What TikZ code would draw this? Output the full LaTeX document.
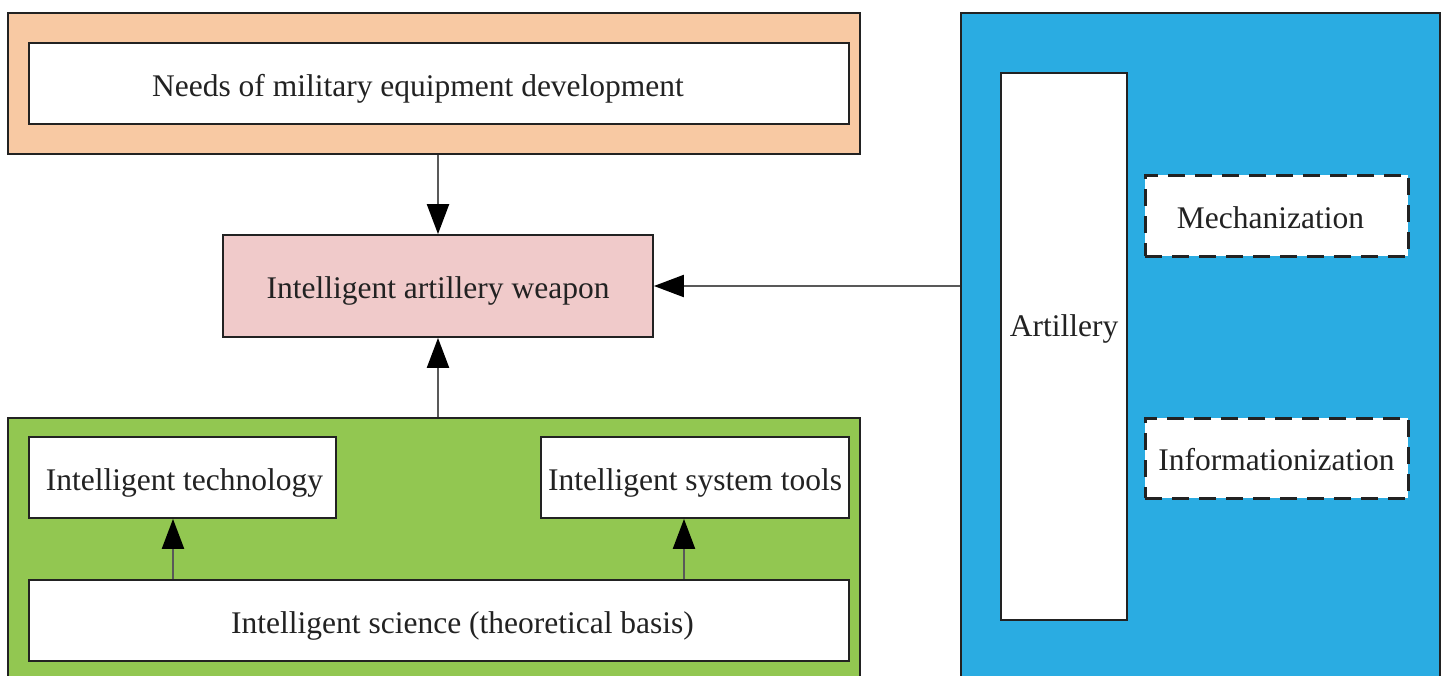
\documentclass[tikz,border=0pt]{standalone}
\usepackage{fontspec}
\setmainfont{Liberation Serif}
\usetikzlibrary{arrows.meta}
\definecolor{peach}{HTML}{F8C9A3}
\definecolor{rosy}{HTML}{F0CACA}
\definecolor{leaf}{HTML}{92C751}
\definecolor{sky}{HTML}{2AACE2}
\definecolor{ink}{HTML}{222222}
\begin{document}
\begin{tikzpicture}[x=1pt,y=-1pt,
  box/.style={draw=ink,line width=1.8pt,rectangle,inner sep=0pt,text=ink,
    font=\fontsize{31.5}{36}\selectfont,text height=30pt,text depth=5pt},
  whitebox/.style={box,fill=white},
  dashbox/.style={box,fill=white,line width=3pt,dash pattern=on 17pt off 10pt},
  frame/.style={draw=ink,line width=1.8pt,rectangle,inner sep=0pt},
  conn/.style={draw=black!65,line width=2.2pt,-{Triangle[length=30pt,width=22pt,color=black,fill=black]}}
]
\useasboundingbox (0,0) rectangle (1451,675);
\node[frame,fill=peach,minimum width=852pt,minimum height=141pt] (needsOuter) at (434,83.5) {};
\node[whitebox,minimum width=820pt,minimum height=81pt] (needs) at (439,83.5) {\hspace*{-42pt}Needs of military equipment development};
\node[box,fill=rosy,minimum width=430pt,minimum height=102pt] (weapon) at (438,286) {Intelligent artillery weapon};
\node[frame,fill=leaf,minimum width=852pt,minimum height=272pt] (greenOuter) at (434,554) {};
\node[whitebox,minimum width=307pt,minimum height=81pt] (tech) at (182.5,477.5) {\hspace*{4pt}Intelligent technology};
\node[whitebox,minimum width=308pt,minimum height=81pt] (tools) at (695,477.5) {Intelligent system tools};
\node[whitebox,minimum width=820pt,minimum height=81pt] (science) at (439,620.5) {\hspace*{47pt}Intelligent science (theoretical basis)};
\node[frame,fill=sky,minimum width=479pt,minimum height=682pt] (blueOuter) at (1200.5,354) {};
\node[whitebox,minimum width=126pt,minimum height=547pt,text height=5pt,text depth=26pt] (artillery) at (1064,346.5) {Artillery};
\node[dashbox,minimum width=263pt,minimum height=81pt] (mech) at (1276.5,215.5) {\hspace*{-12pt}Mechanization};
\node[dashbox,minimum width=263pt,minimum height=80pt] (info) at (1276.5,458) {Informationization};
\coordinate (techIn) at ([xshift=-9.5pt]tech.south);
\coordinate (toolsIn) at ([xshift=-11pt]tools.south);
\draw[conn] (weapon.north |- needsOuter.south) -- (weapon.north);
\draw[conn] (weapon.south |- greenOuter.north) -- (weapon.south);
\draw[conn] (blueOuter.west |- weapon.east) -- (weapon.east);
\draw[conn] (techIn |- science.north) -- (techIn);
\draw[conn] (toolsIn |- science.north) -- (toolsIn);
\end{tikzpicture}
\end{document}
